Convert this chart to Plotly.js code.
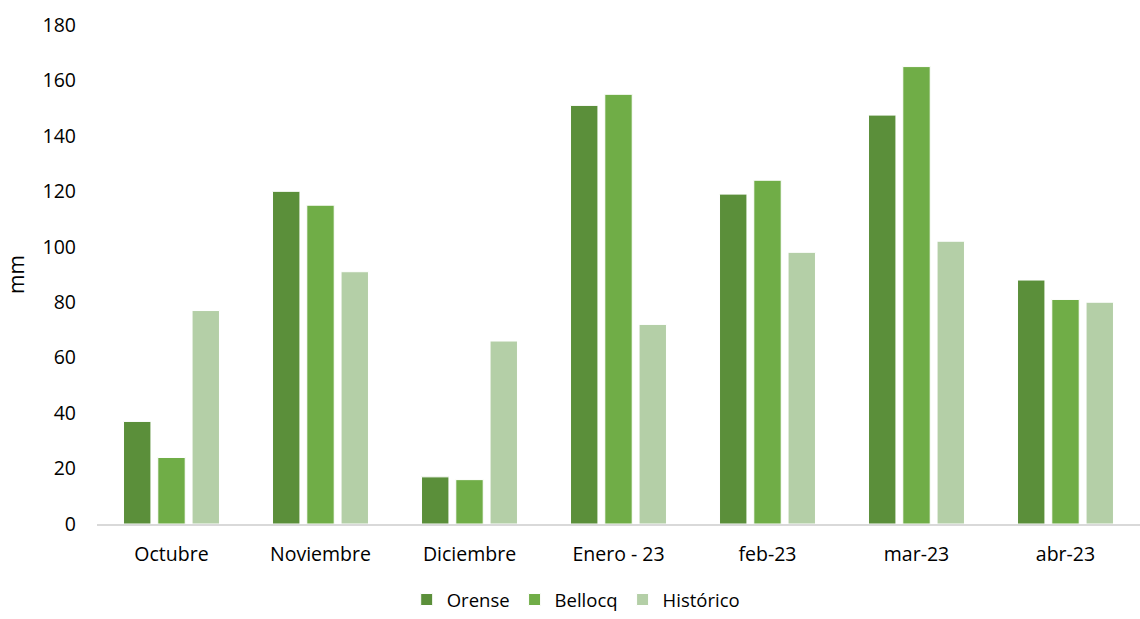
<!DOCTYPE html>
<html>
<head>
<meta charset="utf-8">
<script src="https://cdn.plot.ly/plotly-3.0.1.min.js"></script>
<style>html,body{margin:0;padding:0;background:#fff}#chart{width:1140px;height:619px}</style>
</head>
<body>
<div id="chart"></div>
<script>
const categories = ["Octubre", "Noviembre", "Diciembre", "Enero - 23", "feb-23", "mar-23", "abr-23"];
const orense = [37, 120, 17, 151, 119, 147.5, 88];
const bellocq = [24, 115, 16, 155, 124, 165, 81];
const historico = [77, 91, 66, 72, 98, 102, 80];
const seriesNames = ["Orense", "Bellocq", "Histórico"];
const yTicks = [0, 20, 40, 60, 80, 100, 120, 140, 160, 180];

const colors = ["#5B8F3A", "#70AD47", "#B4CFA7"];
const data = [orense, bellocq, historico].map((vals, i) => ({
  type: "bar",
  name: seriesNames[i],
  x: categories,
  y: vals,
  marker: {color: colors[i], line: {color: "#ffffff", width: 1}},
  hoverinfo: "x+y+name"
}));

const ff = "Open Sans, Noto Sans, sans-serif";
const layout = {
  width: 1140, height: 619,
  margin: {l: 97, r: 0, t: 25, b: 95},
  paper_bgcolor: "#fff", plot_bgcolor: "#fff",
  font: {family: ff, size: 19, color: "#000"},
  barmode: "group",
  bargap: 0.31,
  bargroupgap: 0.2,
  showlegend: true,
  legend: {
    orientation: "h", xref: "container", yref: "container",
    x: 0.505, xanchor: "center", y: 0.0, yanchor: "bottom",
    font: {family: ff, size: 18.5, color: "#000"},
    itemwidth: 30, traceorder: "normal", tracegroupgap: 0,
    bgcolor: "rgba(0,0,0,0)"
  },
  xaxis: {
    type: "category",
    showgrid: false, zeroline: false,
    showline: true, linecolor: "#d9d9d9", linewidth: 2,
    ticks: "", ticklabelstandoff: 12,
    tickfont: {family: ff, size: 19.5, color: "#000"}
  },
  yaxis: {
    range: [0, 180], tickvals: yTicks, ticktext: yTicks.map(String),
    showgrid: false, zeroline: false, showline: false,
    ticks: "", ticklabelstandoff: 20,
    tickfont: {family: ff, size: 19.5, color: "#000"},
    title: {text: "mm", font: {family: ff, size: 21, color: "#000"}, standoff: 12}
  }
};

Plotly.newPlot("chart", data, layout, {displayModeBar: false, staticPlot: true});
</script>
</body>
</html>
